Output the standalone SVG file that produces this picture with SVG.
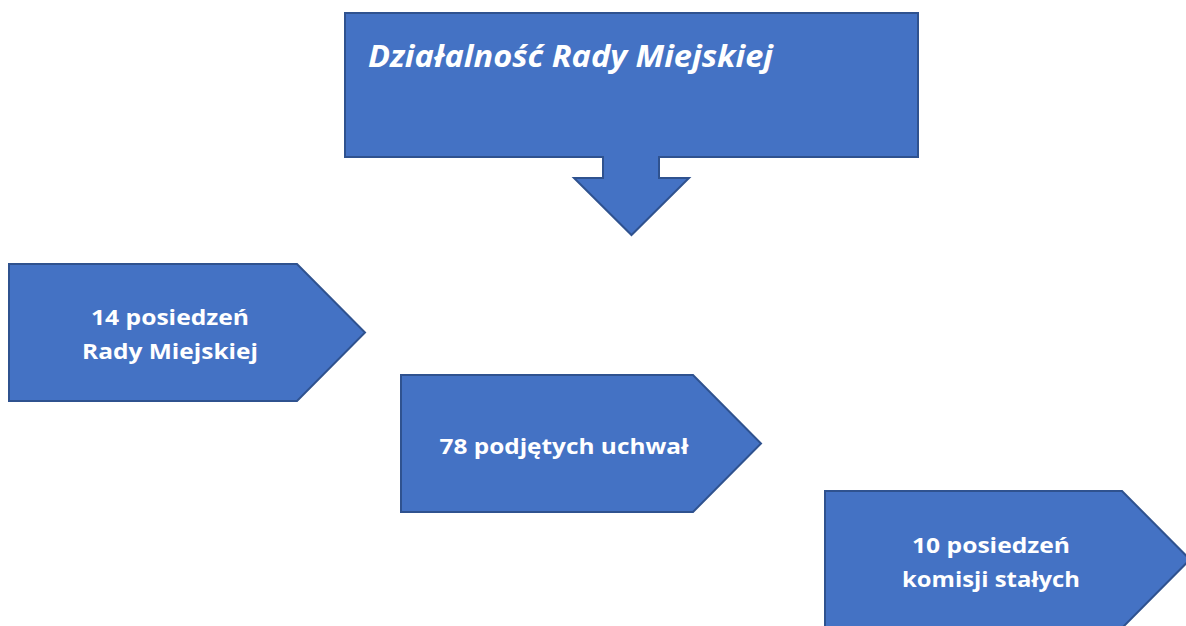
<svg xmlns="http://www.w3.org/2000/svg" width="1186" height="626" viewBox="0 0 1186 626">
<style>
.shape{fill:#4472C4;stroke:#2F528F;stroke-width:2;stroke-linejoin:miter}
.lbl{fill:#FFFFFF;font-family:"Open Sans","Liberation Sans",Arial,sans-serif;font-weight:bold;font-size:21.5px;text-anchor:middle}
.title{fill:#FFFFFF;font-family:"Open Sans","Liberation Sans",Arial,sans-serif;font-weight:bold;font-style:italic;font-size:30.5px}
</style>
<rect width="1186" height="626" fill="#FFFFFF"/>
<g id="node-title">
<path class="shape" d="M345,13 H918 V157 H659 V178 H689 L631.5,235 L574,178 H603 V157 H345 Z"/>
<text class="title" x="368" y="67" textLength="405" lengthAdjust="spacingAndGlyphs">Działalność Rady Miejskiej</text>
</g>
<g id="connectors"></g>
<g id="node-posiedzenia">
<path class="shape" d="M9,264 H297 L365,332.5 L297,401 H9 Z"/>
<text class="lbl" x="170" y="325" textLength="158" lengthAdjust="spacingAndGlyphs">14 posiedzeń</text>
<text class="lbl" x="170" y="359" textLength="176" lengthAdjust="spacingAndGlyphs">Rady Miejskiej</text>
</g>
<g id="node-uchwaly">
<path class="shape" d="M401,375 H693 L761,443.5 L693,512 H401 Z"/>
<text class="lbl" x="564" y="454" textLength="249" lengthAdjust="spacingAndGlyphs">78 podjętych uchwał</text>
</g>
<g id="node-komisje">
<path class="shape" d="M825,491 H1122 L1190,559.5 L1122,628 H825 Z"/>
<text class="lbl" x="991" y="553" textLength="158" lengthAdjust="spacingAndGlyphs">10 posiedzeń</text>
<text class="lbl" x="991" y="587" textLength="178" lengthAdjust="spacingAndGlyphs">komisji stałych</text>
</g>
</svg>
